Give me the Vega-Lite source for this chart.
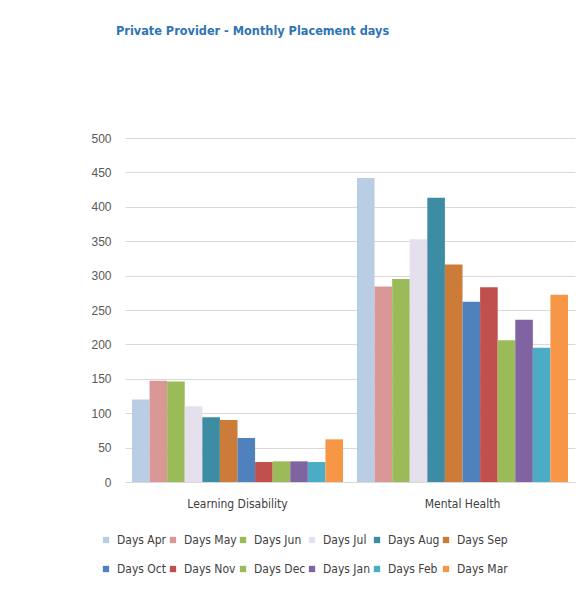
{
  "$schema": "https://vega.github.io/schema/vega-lite/v6.json",
  "autosize": "none",
  "width": 450,
  "height": 344,
  "padding": {"left": 125, "top": 138, "right": 3, "bottom": 109},
  "background": "white",
  "title": {
    "text": "Private Provider - Monthly Placement days",
    "anchor": "start",
    "frame": "group",
    "dx": -9,
    "offset": 94,
    "font": "DejaVu Sans Condensed, sans-serif",
    "fontSize": 12.6,
    "fontWeight": "bold",
    "color": "#2E75B6"
  },
  "data": {
    "values": [
      {"group": "Learning Disability", "month": "Days Apr", "days": 120},
      {"group": "Learning Disability", "month": "Days May", "days": 147},
      {"group": "Learning Disability", "month": "Days Jun", "days": 146},
      {"group": "Learning Disability", "month": "Days Jul", "days": 110},
      {"group": "Learning Disability", "month": "Days Aug", "days": 94},
      {"group": "Learning Disability", "month": "Days Sep", "days": 90},
      {"group": "Learning Disability", "month": "Days Oct", "days": 64},
      {"group": "Learning Disability", "month": "Days Nov", "days": 29},
      {"group": "Learning Disability", "month": "Days Dec", "days": 30},
      {"group": "Learning Disability", "month": "Days Jan", "days": 30},
      {"group": "Learning Disability", "month": "Days Feb", "days": 29},
      {"group": "Learning Disability", "month": "Days Mar", "days": 62},
      {"group": "Mental Health", "month": "Days Apr", "days": 442},
      {"group": "Mental Health", "month": "Days May", "days": 284},
      {"group": "Mental Health", "month": "Days Jun", "days": 295},
      {"group": "Mental Health", "month": "Days Jul", "days": 353},
      {"group": "Mental Health", "month": "Days Aug", "days": 413},
      {"group": "Mental Health", "month": "Days Sep", "days": 316},
      {"group": "Mental Health", "month": "Days Oct", "days": 262},
      {"group": "Mental Health", "month": "Days Nov", "days": 283},
      {"group": "Mental Health", "month": "Days Dec", "days": 206},
      {"group": "Mental Health", "month": "Days Jan", "days": 236},
      {"group": "Mental Health", "month": "Days Feb", "days": 195},
      {"group": "Mental Health", "month": "Days Mar", "days": 272}
    ]
  },
  "mark": {"type": "bar"},
  "encoding": {
    "x": {
      "field": "group",
      "type": "nominal",
      "title": null,
      "scale": {"paddingInner": 0.062, "paddingOuter": 0.031},
      "axis": {
        "labelAngle": 0,
        "labelFont": "DejaVu Sans Condensed, sans-serif",
        "labelFontSize": 12,
        "labelColor": "#404040",
        "labelPadding": 16,
        "domainColor": "#D9D9D9",
        "ticks": false
      }
    },
    "xOffset": {
      "field": "month",
      "type": "nominal",
      "sort": ["Days Apr","Days May","Days Jun","Days Jul","Days Aug","Days Sep","Days Oct","Days Nov","Days Dec","Days Jan","Days Feb","Days Mar"],
      "scale": {"paddingInner": 0, "paddingOuter": 0}
    },
    "y": {
      "field": "days",
      "type": "quantitative",
      "title": null,
      "scale": {"domain": [0, 500]},
      "axis": {
        "values": [0,50,100,150,200,250,300,350,400,450,500],
        "domain": false,
        "ticks": false,
        "labelFont": "Liberation Sans, Arial, sans-serif",
        "labelFontSize": 12,
        "labelColor": "#595959",
        "labelPadding": 14,
        "gridColor": "#D9D9D9"
      }
    },
    "color": {
      "field": "month",
      "type": "nominal",
      "title": null,
      "scale": {
        "domain": ["Days Apr","Days May","Days Jun","Days Jul","Days Aug","Days Sep","Days Oct","Days Nov","Days Dec","Days Jan","Days Feb","Days Mar"],
        "range": ["#B9CDE5","#D99795","#9BBB59","#E6E0EC","#3C8CA3","#CC7B38","#4F81BD","#C0504D","#9BBB59","#8064A2","#4BACC6","#F79646"]
      },
      "legend": {
        "orient": "none",
        "legendX": -25,
        "legendY": 396,
        "columns": 6,
        "direction": "horizontal",
        "gridAlign": "each",
        "columnPadding": 0,
        "rowPadding": 17,
        "symbolType": "square",
        "symbolSize": 40,
        "symbolStrokeWidth": 0,
        "labelFont": "DejaVu Sans Condensed, sans-serif",
        "labelFontSize": 12,
        "labelColor": "#404040",
        "labelOffset": 5
      }
    }
  },
  "config": {
    "view": {"stroke": null}
  }
}
